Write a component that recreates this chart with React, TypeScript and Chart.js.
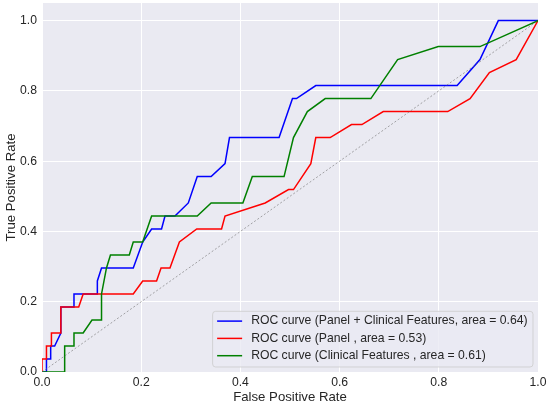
import React, { useEffect, useRef } from "react";
import { Chart, registerables } from "chart.js";

Chart.register(...registerables);

// ROC curve: Panel + Clinical Features (blue)
const comboFpr = [0, 0.009, 0.009, 0.0175, 0.0175, 0.0255, 0.038, 0.038, 0.0645, 0.0645, 0.1116, 0.1116, 0.12, 0.184, 0.203, 0.221, 0.241, 0.248, 0.268, 0.295, 0.313, 0.341, 0.369, 0.378, 0.478, 0.505, 0.513, 0.552, 0.837, 0.883, 0.92, 1];
const comboTpr = [0, 0, 0.037, 0.037, 0.074, 0.074, 0.111, 0.185, 0.185, 0.222, 0.222, 0.259, 0.296, 0.296, 0.37, 0.407, 0.407, 0.444, 0.444, 0.481, 0.556, 0.556, 0.593, 0.667, 0.667, 0.778, 0.778, 0.815, 0.815, 0.889, 1, 1];

// ROC curve: Panel (red)
const panelFpr = [0, 0, 0.009, 0.009, 0.019, 0.019, 0.038, 0.038, 0.074, 0.083, 0.184, 0.203, 0.231, 0.24, 0.258, 0.277, 0.312, 0.362, 0.369, 0.45, 0.497, 0.507, 0.542, 0.552, 0.581, 0.624, 0.645, 0.688, 0.818, 0.863, 0.902, 0.956, 1];
const panelTpr = [0, 0.037, 0.037, 0.074, 0.074, 0.111, 0.111, 0.185, 0.185, 0.222, 0.222, 0.259, 0.259, 0.296, 0.296, 0.37, 0.407, 0.407, 0.444, 0.481, 0.519, 0.519, 0.593, 0.667, 0.667, 0.704, 0.704, 0.741, 0.741, 0.778, 0.852, 0.889, 1];

// ROC curve: Clinical Features (green)
const clinicalFpr = [0, 0.0457, 0.0457, 0.0645, 0.0645, 0.083, 0.1008, 0.12, 0.12, 0.13, 0.138, 0.176, 0.184, 0.203, 0.221, 0.313, 0.341, 0.405, 0.424, 0.488, 0.507, 0.535, 0.571, 0.663, 0.717, 0.799, 0.883, 1];
const clinicalTpr = [0, 0, 0.074, 0.074, 0.111, 0.111, 0.148, 0.148, 0.222, 0.296, 0.333, 0.333, 0.37, 0.37, 0.444, 0.444, 0.481, 0.481, 0.556, 0.556, 0.667, 0.741, 0.778, 0.778, 0.889, 0.926, 0.926, 1];

// chance line
const chanceFpr = [0, 1];
const chanceTpr = [0, 1];

const seriesLabels = [
  "ROC curve (Panel + Clinical Features, area = 0.64)",
  "ROC curve (Panel , area = 0.53)",
  "ROC curve (Clinical Features , area = 0.61)",
];
const seriesColors = ["#0000ff", "#ff0000", "#008000"];

const xTicks = [0, 0.2, 0.4, 0.6, 0.8, 1.0];
const yTicks = [0, 0.2, 0.4, 0.6, 0.8, 1.0];
const xTitle = "False Positive Rate";
const yTitle = "True Positive Rate";

const FONT = "'Liberation Sans', Arial, Helvetica, sans-serif";
const TEXT = "#262626";
const BG = "#eaeaf2";
const TICK_SIZE = 12.2;
const TITLE_SIZE = 13.2;

function toPoints(xs: number[], ys: number[]) {
  return xs.map((x, i) => ({ x, y: ys[i] }));
}

const bgPlugin = {
  id: "axesBg",
  beforeDraw(chart: any) {
    const { ctx, chartArea: a } = chart;
    ctx.save();
    ctx.fillStyle = BG;
    ctx.fillRect(a.left, a.top, a.right - a.left, a.bottom - a.top);
    ctx.restore();
  },
};

function roundRect(ctx: CanvasRenderingContext2D, x: number, y: number, w: number, h: number, r: number) {
  ctx.beginPath();
  ctx.moveTo(x + r, y);
  ctx.lineTo(x + w - r, y);
  ctx.arcTo(x + w, y, x + w, y + r, r);
  ctx.lineTo(x + w, y + h - r);
  ctx.arcTo(x + w, y + h, x + w - r, y + h, r);
  ctx.lineTo(x + r, y + h);
  ctx.arcTo(x, y + h, x, y + h - r, r);
  ctx.lineTo(x, y + r);
  ctx.arcTo(x, y, x + r, y, r);
  ctx.closePath();
}

const legendPlugin = {
  id: "rocLegend",
  afterDraw(chart: any) {
    const { ctx, chartArea: a } = chart;
    const items = chart.data.datasets.filter((d: any) => d.inLegend);
    ctx.save();
    ctx.font = `${TICK_SIZE}px ${FONT}`;
    const textW = Math.max(...items.map((d: any) => ctx.measureText(d.label).width));
    const padL = 4.5;
    const lineLen = 25;
    const gap = 9;
    const padR = 5.5;
    const rowH = 17.3;
    const firstRow = 9.8;
    const w = padL + lineLen + gap + textW + padR;
    const h = 55.7;
    const right = a.right - 5;
    const bottom = a.bottom - 5;
    const left = right - w;
    const top = bottom - h;
    roundRect(ctx, left, top, w, h, 3);
    ctx.fillStyle = "rgba(234,234,242,0.8)";
    ctx.fill();
    ctx.lineWidth = 1;
    ctx.strokeStyle = "rgba(204,204,204,0.8)";
    ctx.stroke();
    items.forEach((d: any, i: number) => {
      const cy = top + firstRow + i * rowH;
      ctx.beginPath();
      ctx.moveTo(left + padL, cy);
      ctx.lineTo(left + padL + lineLen, cy);
      ctx.strokeStyle = d.borderColor;
      ctx.lineWidth = 1.5;
      ctx.stroke();
      ctx.fillStyle = TEXT;
      ctx.textBaseline = "middle";
      ctx.textAlign = "left";
      ctx.fillText(d.label, left + padL + lineLen + gap, cy);
    });
    ctx.restore();
  },
};

export default function App() {
  const ref = useRef<HTMLCanvasElement | null>(null);

  useEffect(() => {
    if (!ref.current) return;
    const curve = (xs: number[], ys: number[], i: number, order: number) => ({
      label: seriesLabels[i],
      inLegend: true,
      data: toPoints(xs, ys),
      showLine: true,
      borderColor: seriesColors[i],
      backgroundColor: seriesColors[i],
      borderWidth: 1.5,
      pointRadius: 0,
      pointHoverRadius: 0,
      tension: 0,
      clip: 0,
      order,
    });
    const chart = new Chart(ref.current, {
      type: "scatter",
      data: {
        datasets: [
          curve(comboFpr, comboTpr, 0, 4),
          curve(panelFpr, panelTpr, 1, 3),
          curve(clinicalFpr, clinicalTpr, 2, 2),
          {
            label: "",
            inLegend: false,
            data: toPoints(chanceFpr, chanceTpr),
            showLine: true,
            borderColor: "rgba(110,110,110,0.75)",
            borderWidth: 0.8,
            borderDash: [2, 2],
            pointRadius: 0,
            pointHoverRadius: 0,
            clip: 0,
            order: 1,
          } as any,
        ],
      },
      options: {
        animation: false,
        responsive: false,
        events: [],
        layout: { padding: { top: 3, right: 12, left: 0, bottom: 0 } },
        plugins: {
          legend: { display: false },
          tooltip: { enabled: false },
        },
        scales: {
          x: {
            type: "linear",
            min: 0,
            max: 1,
            afterBuildTicks: (s: any) => {
              s.ticks = xTicks.map((v) => ({ value: v }));
            },
            afterFit: (s: any) => {
              s.height = 33;
              s.paddingLeft = 0;
              s.paddingRight = 0;
              s.paddingTop = 0;
              s.paddingBottom = 0;
            },
            ticks: {
              padding: 3.5,
              color: TEXT,
              font: { family: FONT, size: TICK_SIZE },
              maxRotation: 0,
              autoSkip: false,
              callback: (v: any) => Number(v).toFixed(1),
            },
            grid: { color: "#ffffff", lineWidth: 1, drawTicks: false },
            border: { display: false },
            title: {
              display: true,
              text: xTitle,
              color: TEXT,
              font: { family: FONT, size: TITLE_SIZE },
              padding: { top: 0, bottom: 0 },
            },
          },
          y: {
            type: "linear",
            min: 0,
            max: 1.05,
            afterBuildTicks: (s: any) => {
              s.ticks = yTicks.map((v) => ({ value: v }));
            },
            afterFit: (s: any) => {
              s.width = 42;
              s.paddingLeft = 0;
              s.paddingRight = 0;
              s.paddingTop = 0;
              s.paddingBottom = 0;
            },
            ticks: {
              padding: 5,
              color: TEXT,
              font: { family: FONT, size: TICK_SIZE },
              autoSkip: false,
              callback: (v: any) => Number(v).toFixed(1),
            },
            grid: { color: "#ffffff", lineWidth: 1, drawTicks: false },
            border: { display: false },
            title: {
              display: true,
              text: yTitle,
              color: TEXT,
              font: { family: FONT, size: TITLE_SIZE },
              padding: { top: 3, bottom: 0 },
            },
          },
        },
      } as any,
      plugins: [bgPlugin, legendPlugin],
    });
    return () => chart.destroy();
  }, []);

  return (
    <div style={{ position: "fixed", left: 0, top: 0, width: 550, height: 405, background: "#ffffff" }}>
      <canvas ref={ref} width={550} height={405} style={{ display: "block", width: 550, height: 405 }} />
    </div>
  );
}
